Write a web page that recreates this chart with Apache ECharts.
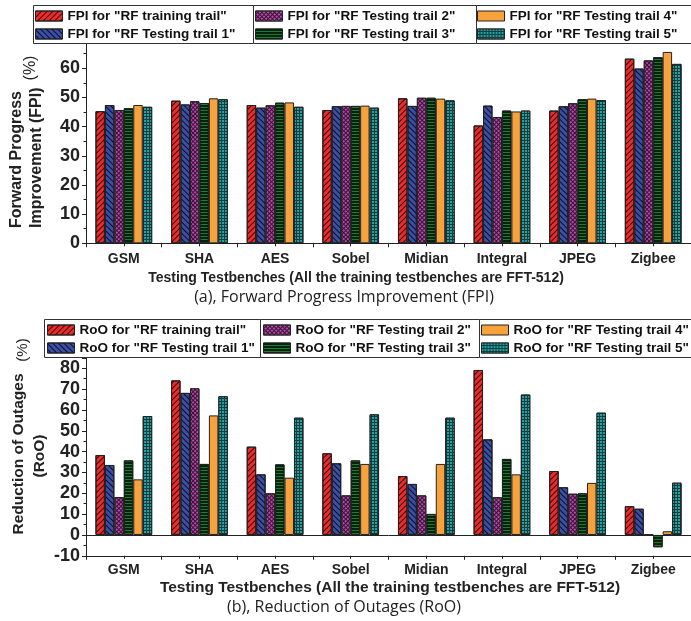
<!DOCTYPE html>
<html>
<head>
<meta charset="utf-8">
<script src="https://cdn.jsdelivr.net/npm/echarts@6/dist/echarts.min.js"></script>
<style>html,body{margin:0;padding:0;background:#fff;}#c{width:691px;height:621px;}</style>
</head>
<body>
<div id="c"></div>
<script>
// ---------- data ----------
const categories = ['GSM', 'SHA', 'AES', 'Sobel', 'Midian', 'Integral', 'JPEG', 'Zigbee'];
const fpiNames = ['FPI for "RF training trail"', 'FPI for "RF Testing trail 1"', 'FPI for "RF Testing trail 2"',
                  'FPI for "RF Testing trail 3"', 'FPI for "RF Testing trail 4"', 'FPI for "RF Testing trail 5"'];
const rooNames = ['RoO for "RF training trail"', 'RoO for "RF Testing trail 1"', 'RoO for "RF Testing trail 2"',
                  'RoO for "RF Testing trail 3"', 'RoO for "RF Testing trail 4"', 'RoO for "RF Testing trail 5"'];
const fpiTraining = [45.3, 48.9, 47.4, 45.7, 49.7, 40.4, 45.5, 63.3];
const fpiTest1    = [47.4, 47.6, 46.5, 47.0, 47.1, 47.2, 47.0, 59.9];
const fpiTest2    = [45.7, 48.7, 47.3, 47.1, 49.9, 43.3, 48.0, 62.7];
const fpiTest3    = [46.3, 48.1, 48.2, 47.1, 49.9, 45.5, 49.4, 63.8];
const fpiTest4    = [47.4, 49.7, 48.3, 47.2, 49.6, 45.2, 49.6, 65.6];
const fpiTest5    = [46.8, 49.4, 46.8, 46.5, 49.0, 45.5, 49.1, 61.5];
const rooTraining = [38.4, 74.2, 42.4, 39.2, 28.3, 79.2, 30.7, 13.8];
const rooTest1    = [33.6, 68.2, 29.1, 34.4, 24.5, 45.9, 22.9, 12.6];
const rooTest2    = [18.2, 70.4, 20.0, 19.0, 19.0, 18.1, 19.8, 0];
const rooTest3    = [35.8, 34.1, 33.9, 35.8, 10.1, 36.5, 20.0, -5.9];
const rooTest4    = [26.7, 57.4, 27.5, 34.1, 34.1, 29.1, 25.0, 1.8];
const rooTest5    = [57.1, 66.6, 56.3, 57.9, 56.3, 67.4, 58.7, 25.1];
const fpiTicks = [0, 70, 10];   // min, max, interval
const rooTicks = [-10, 85, 10];

// ---------- styles ----------
const FONT = '"Liberation Sans", Arial, sans-serif';
const styles = [
  { color: '#ee2b2b', decal: { symbol: 'rect', symbolSize: 1, dashArrayX: [1, 0], dashArrayY: [1, 3], rotation: -Math.PI / 4, color: 'rgba(20,0,0,0.85)' } },
  { color: '#3b4fa3', decal: { symbol: 'rect', symbolSize: 1, dashArrayX: [1, 0], dashArrayY: [1, 3], rotation: Math.PI / 4, color: 'rgba(0,0,20,0.85)' } },
  { color: '#3a1236', decal: { symbol: 'rect', symbolSize: 1, dashArrayX: [2, 1], dashArrayY: [2, 1], rotation: Math.PI / 4, color: '#b44aaa' } },
  { color: '#1e7a3c', decal: { symbol: 'rect', symbolSize: 1, dashArrayX: [1, 0], dashArrayY: [2, 1], rotation: 0, color: 'rgba(0,20,0,0.85)' } },
  { color: '#f7a23c', decal: 'none' },
  { color: '#153c3c', decal: { symbol: 'rect', symbolSize: 1, dashArrayX: [2, 1], dashArrayY: [2, 1], rotation: 0, color: '#1fa3a3' } }
];

const fpiData = [fpiTraining, fpiTest1, fpiTest2, fpiTest3, fpiTest4, fpiTest5];
const rooData = [rooTraining, rooTest1, rooTest2, rooTest3, rooTest4, rooTest5];

function mkSeries(names, datas, xi, yi, withZero) {
  return names.map((n, i) => {
    const s = {
      name: n, type: 'bar', xAxisIndex: xi, yAxisIndex: yi, data: datas[i],
      barGap: '0%', barCategoryGap: '25%',
      itemStyle: { color: styles[i].color, borderColor: '#222', borderWidth: 1 },
      emphasis: { disabled: true }, animation: false
    };
    if (styles[i].decal !== 'none') s.itemStyle.decal = styles[i].decal;
    if (withZero && i === 0) {
      s.markLine = { silent: true, symbol: 'none', label: { show: false },
        lineStyle: { color: '#222', width: 1, type: 'solid' }, data: [{ yAxis: 0 }], animation: false };
    }
    return s;
  });
}

function mkLegend(names, left, top) {
  return {
    left: left, top: top, orient: 'vertical', padding: 0, itemGap: 4,
    itemWidth: 27, itemHeight: 10, selectedMode: false, z: 20, icon: 'rect',
    data: names,
    textStyle: { fontFamily: FONT, fontWeight: 'bold', fontSize: 13.5, color: '#111', lineHeight: 14 },
    itemStyle: { borderColor: '#222', borderWidth: 1 }
  };
}

function yAx(gi, t) {
  return {
    type: 'value', gridIndex: gi, min: t[0], max: t[1], interval: t[2],
    axisLine: { show: true, lineStyle: { color: '#222', width: 1 } },
    axisTick: { show: true, length: 4, lineStyle: { color: '#222' } },
    minorTick: { show: true, splitNumber: 2, length: 2.5, lineStyle: { color: '#222' } },
    splitLine: { show: false },
    axisLabel: { fontFamily: FONT, fontWeight: 'bold', fontSize: 18, color: '#222', margin: 6, showMaxLabel: false }
  };
}
function xAx(gi, main, margin) {
  return {
    type: 'category', gridIndex: gi, data: categories, position: 'bottom',
    axisLine: { show: main, onZero: false, lineStyle: { color: '#222', width: 1 } },
    axisTick: { show: true, alignWithLabel: !main, length: main ? 4 : 3, lineStyle: { color: '#222' } },
    axisLabel: { show: main, fontFamily: FONT, fontWeight: 'bold', fontSize: 14, color: '#222', margin: margin }
  };
}

function txt(x, y, text, font, rot, align) {
  return { type: 'text', x: x, y: y, rotation: rot || 0, z: 5,
    style: { text: text, font: font, fill: '#222', textAlign: align || 'center', textVerticalAlign: 'middle' } };
}
function box(x1, y1, x2, y2) {
  return { type: 'rect', z: 10, shape: { x: x1 + 0.5, y: y1 + 0.5, width: x2 - x1, height: y2 - y1 },
    style: { fill: '#fff', stroke: '#333', lineWidth: 1 } };
}

const chart = echarts.init(document.getElementById('c'), null, { renderer: 'canvas' });
chart.setOption({
  animation: false,
  backgroundColor: '#fff',
  grid: [
    { left: 86, width: 608, top: 39.1, height: 204.2 },
    { left: 86, width: 608, top: 357.9, height: 197.9 }
  ],
  xAxis: [xAx(0, true, 9), xAx(0, false, 9), xAx(1, true, 7), xAx(1, false, 7)],
  yAxis: [yAx(0, fpiTicks), yAx(1, rooTicks)],
  legend: [
    mkLegend(fpiNames.slice(0, 2), 35, 9),
    mkLegend(fpiNames.slice(2, 4), 255, 9),
    mkLegend(fpiNames.slice(4, 6), 477, 9),
    mkLegend(rooNames.slice(0, 2), 47, 323),
    mkLegend(rooNames.slice(2, 4), 263, 323),
    mkLegend(rooNames.slice(4, 6), 481, 323)
  ],
  graphic: [
    box(33, 5, 253, 43), box(253, 5, 476, 43), box(476, 5, 700, 43),
    box(44, 319, 260, 357), box(260, 319, 479, 357), box(479, 319, 700, 357),
    txt(17, 228, 'Forward Progress', 'bold 16px ' + FONT, Math.PI / 2, 'left'),
    txt(37, 228, 'Improvement (FPI)', 'bold 16px ' + FONT, Math.PI / 2, 'left'),
    txt(31, 68, '(%)', '16px ' + FONT, Math.PI / 2, 'center'),
    txt(356, 278, 'Testing Testbenches (All the training testbenches are FFT-512)', 'bold 14px ' + FONT),
    txt(344, 297, '(a), Forward Progress Improvement (FPI)', '16px "Open Sans", sans-serif'),
    txt(19, 454, 'Reduction of Outages', 'bold 15.5px ' + FONT, Math.PI / 2, 'center'),
    txt(40, 456, '(RoO)', 'bold 15.5px ' + FONT, Math.PI / 2, 'center'),
    txt(23, 350, '(%)', '15px ' + FONT, Math.PI / 2, 'center'),
    txt(390, 588, 'Testing Testbenches (All the training testbenches are FFT-512)', 'bold 15.5px ' + FONT),
    txt(344, 607, '(b), Reduction of Outages (RoO)', '16px "Open Sans", sans-serif')
  ],
  series: mkSeries(fpiNames, fpiData, 0, 0, false).concat(mkSeries(rooNames, rooData, 2, 1, true))
});
</script>
</body>
</html>
